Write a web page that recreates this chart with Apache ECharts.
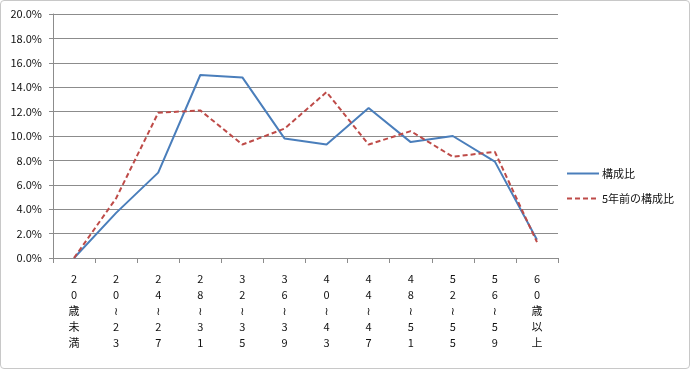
<!DOCTYPE html>
<html><head><meta charset="utf-8">
<script src="https://cdn.jsdelivr.net/npm/echarts@6/dist/echarts.min.js"></script>
<style>
html,body{margin:0;padding:0;background:#fff;}
#c{width:690px;height:369px;box-sizing:border-box;border:1px solid #c8c8c8;border-radius:4px;}
</style></head>
<body><div id="c"></div>
<script>
const categories = ['20歳未満','20〜23','24〜27','28〜31','32〜35','36〜39','40〜43','44〜47','48〜51','52〜55','56〜59','60歳以上'];
const current = [0.0, 3.7, 7.0, 15.0, 14.8, 9.8, 9.3, 12.3, 9.5, 10.0, 7.9, 1.5];
const fiveYearsAgo = [0.0, 4.9, 11.9, 12.1, 9.3, 10.6, 13.6, 9.3, 10.4, 8.3, 8.7, 1.3];
const seriesNames = ['構成比', '5年前の構成比'];

const chart = echarts.init(document.getElementById('c'));
const font = '"Noto Sans CJK JP", "DejaVu Sans", sans-serif';
chart.setOption({
  animation: false,
  grid: {left: 52, right: 131, top: 13, bottom: 110},
  legend: {
    orient: 'vertical', left: 560, top: 162, itemWidth: 32, itemHeight: 10, itemGap: 14,
    itemStyle: {opacity: 0},
    textStyle: {fontFamily: font, fontSize: 11, color: '#111', padding: [0, 0, 0, -2]},
    data: seriesNames
  },
  xAxis: {
    type: 'category', data: categories, boundaryGap: true,
    axisLine: {lineStyle: {color: '#8c8c8c'}},
    axisTick: {show: true, length: 5, alignWithLabel: false, lineStyle: {color: '#8c8c8c'}},
    axisLabel: {
      interval: 0, margin: 13, fontFamily: font, fontSize: 11, color: '#111', lineHeight: 16,
      formatter: v => v.split('').map(ch => ch === '〜' ? '≀' : ch).join('\n')
    }
  },
  yAxis: {
    type: 'value', min: 0, max: 20, interval: 2,
    axisLine: {show: true, lineStyle: {color: '#8c8c8c'}},
    axisTick: {show: true, length: 4, lineStyle: {color: '#8c8c8c'}},
    splitLine: {lineStyle: {color: '#8c8c8c'}},
    axisLabel: {margin: 11, fontFamily: font, fontSize: 11, color: '#111', formatter: v => v.toFixed(1) + '%'}
  },
  series: [
    {name: seriesNames[0], type: 'line', data: current, symbol: 'none',
     lineStyle: {color: '#4a7ebb', width: 2}, itemStyle: {color: '#4a7ebb'}},
    {name: seriesNames[1], type: 'line', data: fiveYearsAgo, symbol: 'none',
     lineStyle: {color: '#be4b48', width: 2, type: [5, 3]}, itemStyle: {color: '#be4b48'}}
  ]
});
</script></body></html>
